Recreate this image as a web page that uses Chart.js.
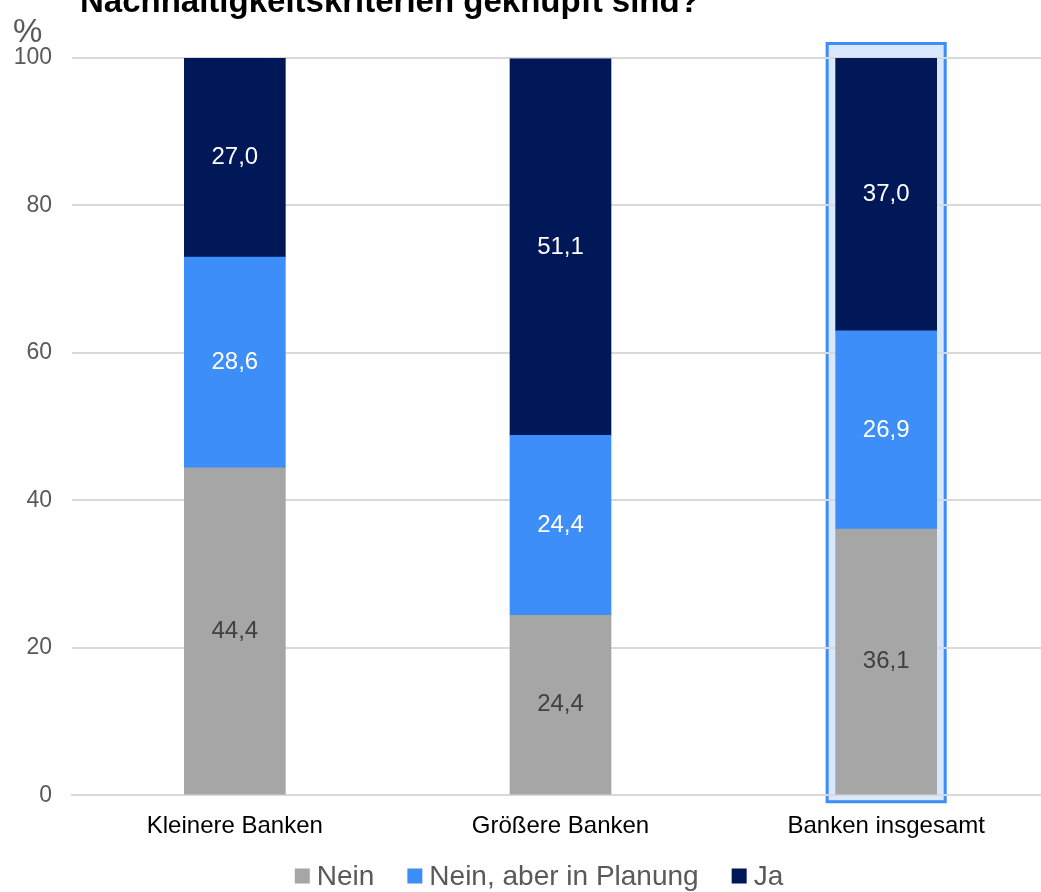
<!DOCTYPE html>
<html>
<head>
<meta charset="utf-8">
<script src="https://cdn.jsdelivr.net/npm/chart.js@4"></script>
<style>
  html, body { margin: 0; padding: 0; background: #fff; overflow: hidden; }
  #wrap { width: 1049px; height: 892px; position: relative; }
</style>
</head>
<body>
<div id="wrap"><canvas id="chart"></canvas></div>
<script>
const categories = ['Kleinere Banken', 'Größere Banken', 'Banken insgesamt'];
const neinValues = [44.4, 24.4, 36.1];
const planungValues = [28.6, 24.4, 26.9];
const jaValues = [27.0, 51.1, 37.0];
const yTicks = [0, 20, 40, 60, 80, 100];
const highlightIndex = 2;

const FONT = '"Liberation Sans", Arial, sans-serif';

// Titel oben ist abgeschnitten, nur unterer Rand sichtbar
const titlePlugin = {
    id: 'cutTitle',
    afterDraw(chart) {
        const ctx = chart.ctx;
        ctx.save();
        ctx.font = 'bold 33px ' + FONT;
        ctx.fillStyle = '#000';
        ctx.textBaseline = 'alphabetic';
        ctx.fillText('Nachhaltigkeitskriterien geknüpft sind?', 80, 12);
        ctx.font = '33px ' + FONT;
        ctx.fillStyle = '#595959';
        ctx.fillText('%', 13, 42);
        ctx.restore();
    }
};

// hellblauer Rahmen um die Gesamt-Säule
const highlightPlugin = {
    id: 'highlight',
    beforeDraw(chart) {
        const meta = chart.getDatasetMeta(0);
        const el = meta.data[highlightIndex];
        if (!el) return;
        const y = chart.scales.y;
        const half = el.width / 2 + 10;
        const top = y.getPixelForValue(100) - 16;
        const bottom = y.getPixelForValue(0) + 8;
        const ctx = chart.ctx;
        ctx.save();
        ctx.fillStyle = '#d9e8fd';
        ctx.fillRect(el.x - half, top, half * 2, bottom - top);
        ctx.strokeStyle = '#3d8ef8';
        ctx.lineWidth = 3;
        ctx.strokeRect(el.x - half + 1.5, top + 1.5, half * 2 - 3, bottom - top - 3);
        ctx.restore();
    }
};

const valueLabels = {
    id: 'valueLabels',
    afterDatasetsDraw(chart) {
        const ctx = chart.ctx;
        ctx.save();
        ctx.font = '24px ' + FONT;
        ctx.textAlign = 'center';
        ctx.textBaseline = 'middle';
        chart.data.datasets.forEach((ds, i) => {
            const meta = chart.getDatasetMeta(i);
            meta.data.forEach((bar, j) => {
                const v = ds.data[j];
                ctx.fillStyle = ds.labelColor;
                ctx.fillText(v.toFixed(1).replace('.', ','), bar.x, (bar.y + bar.base) / 2);
            });
        });
        ctx.restore();
    }
};

// Legende unten, selbst gezeichnet
const bottomLegend = {
    id: 'bottomLegend',
    afterDraw(chart) {
        const ctx = chart.ctx;
        const box = 15, gap = 7, itemGap = 33, cy = 876, center = 539;
        ctx.save();
        ctx.font = '28px ' + FONT;
        ctx.textBaseline = 'middle';
        const items = chart.data.datasets.map(ds => ({ text: ds.label, color: ds.backgroundColor, w: ctx.measureText(ds.label).width }));
        const total = items.reduce((s, it) => s + box + gap + it.w, 0) + itemGap * (items.length - 1);
        let x = center - total / 2;
        items.forEach(it => {
            ctx.fillStyle = it.color;
            ctx.fillRect(x, cy - box / 2, box, box);
            x += box + gap;
            ctx.fillStyle = '#595959';
            ctx.fillText(it.text, x, cy + 1);
            x += it.w + itemGap;
        });
        ctx.restore();
    }
};

new Chart(document.getElementById('chart'), {
    type: 'bar',
    data: {
        labels: categories,
        datasets: [
            { label: 'Nein', data: neinValues, backgroundColor: '#a6a6a6', labelColor: '#404040' },
            { label: 'Nein, aber in Planung', data: planungValues, backgroundColor: '#3d8ef8', labelColor: '#ffffff' },
            { label: 'Ja', data: jaValues, backgroundColor: '#001758', labelColor: '#ffffff' }
        ]
    },
    options: {
        responsive: true,
        maintainAspectRatio: false,
        animation: false,
        datasets: { bar: { barThickness: 101, borderWidth: 0 } },
        layout: { padding: { top: 58, left: 0, right: 0, bottom: 42 } },
        plugins: {
            legend: { display: false },
            tooltip: { enabled: false }
        },
        scales: {
            x: {
                stacked: true,
                grid: { display: false },
                border: { color: '#d9d9d9', width: 2 },
                ticks: {
                    color: '#000',
                    padding: 9,
                    font: { size: 24, family: FONT }
                }
            },
            y: {
                stacked: true,
                min: 0,
                max: 100,
                afterFit(scale) { scale.width = 72; },
                afterBuildTicks(scale) { scale.ticks = yTicks.map(v => ({ value: v })); },
                grid: { color: '#d9d9d9', lineWidth: 2, drawTicks: false },
                border: { display: false },
                ticks: {
                    color: '#595959',
                    padding: 20,
                    font: { size: 23, family: FONT }
                }
            }
        }
    },
    plugins: [highlightPlugin, valueLabels, bottomLegend, titlePlugin]
});
</script>
</body>
</html>
